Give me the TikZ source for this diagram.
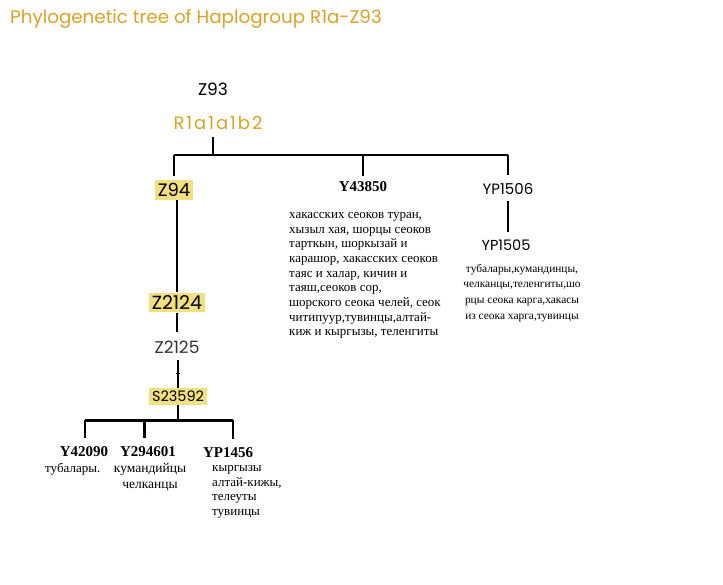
\documentclass[tikz,border=0pt]{standalone}
\usepackage{fontspec}
\setmainfont{Liberation Serif}
\newfontfamily\geofont{Poppins}
\usetikzlibrary{positioning}
\definecolor{hapgold}{HTML}{D9A521}
\definecolor{hapmark}{HTML}{F0E17C}
\definecolor{hapgray}{HTML}{333333}
\newcommand\geosize[1]{\geofont\fontsize{#1}{#1}\selectfont}
\tikzset{
  snp/.style={font=\geosize{16}, inner sep=3pt},
  snpmark/.style={snp, fill=hapmark},
  snpbold/.style={font=\bfseries\fontsize{15}{17}\selectfont, inner sep=1pt},
  folk/.style={font=\fontsize{13}{14.7}\selectfont, inner sep=0pt},
  branch/.style={line width=1.6pt},
}
\begin{document}
\begin{tikzpicture}[x=1pt,y=-1pt]
  \useasboundingbox (0,0) rectangle (723,585);
  %tikz  Haplogroup R1a-Z93
  \node[anchor=west, text=hapgold, font=\geosize{18.3}, inner sep=0pt] (title) at (10,19) {Phylogenetic tree of Haplogroup R1a-Z93};

  \node[snp, font=\geosize{17}] (z93) at (213,89) {Z93};
  \node[snp, text=hapgold, font=\geosize{18}\addfontfeatures{LetterSpace=11}] (r1a) at (218,123) {R1a1a1b2};
  \node[snpmark, font=\geosize{18}] (z94) at (174,190) {Z94};
  \node[snpbold] (y43850) at (363,187) {Y43850};
  \node[snp, font=\geosize{15}] (yp1506) at (508,189) {YP1506};
  \node[snp, font=\geosize{14.5}] (yp1505) at (506,245) {YP1505};
  \node[snpmark, font=\geosize{19}] (z2124) at (177,302.5) {Z2124};
  \node[snp, text=hapgray, font=\geosize{17}] (z2125) at (177,347) {Z2125};
  \node[snpmark, font=\geosize{14.5}] (s23592) at (178,396.5) {S23592};
  \node[snpbold] (y42090) at (84,452) {Y42090};
  \node[snpbold] (y294601) at (148,452) {Y294601};
  \node[snpbold] (yp1456) at (228,453) {YP1456};

  \coordinate (top) at (213,137);
  \coordinate (barl) at (174,155);
  \coordinate (barr) at (508,155);
  \coordinate (lowc) at (178,420);
  \coordinate (lowl) at (85,420);
  \coordinate (lowm) at (144,420);
  \coordinate (lowr) at (233,420);

  % upper branching
  \draw[branch] (top) -- (top |- barl);
  \draw[branch] (barl) -- (barr);
  \draw[branch, shorten >=4pt] (barl) -- (z94);
  \draw[branch, shorten >=5pt] (barl -| y43850) -- (y43850);
  \draw[branch, shorten >=5pt] (barr) -- (yp1506);
  \draw[branch, shorten <=3pt, shorten >=4pt] (yp1506) -- (yp1506 |- yp1505.north);

  % Z94 line
  \draw[branch] (z94.south -| z2124) -- (z2124);
  \draw[branch, shorten >=6pt] (z2124) -- (z2125);
  \draw[branch, shorten <=4pt] (z2125.south -| s23592) -- coordinate[pos=.55] (tick) (s23592);
  \draw[thick] (tick) +(-2,0) -- +(2,0);

  % lower branching
  \draw[branch] (s23592) -- (lowc);
  \draw[line width=3pt] (lowl) -- (lowr);
  \draw[line width=2pt, shorten >=8pt] (lowl) -- (lowl |- y42090.north);
  \draw[line width=3pt, shorten >=8pt] (lowm) -- (lowm |- y294601.north);
  \draw[line width=2pt, shorten >=8pt] (lowr) -- (lowr |- yp1456.north);

  % populations
  \node[folk, anchor=north west, align=left] (y43850pop) at (289,212) {хакасских сеоков туран,\\хызыл хая, шорцы сеоков\\тарткын, шоркызай и\\карашор, хакасских сеоков\\таяс и халар, кичин и\\таяш,сеоков сор,\\шорского сеока челей, сеок\\читипуур,тувинцы,алтай-\\киж и кыргызы, теленгиты};
  \node[folk, font=\fontsize{11.4}{15.6}\selectfont, anchor=north, align=center] (yp1505pop) at (522,264) {тубалары,кумандинцы,\\челканцы,теленгиты,шо\\рцы сеока карга,хакасы\\из сеока харга,тувинцы};
  \node[folk, anchor=north west] (y42090pop) at (45,463) {тубалары.};
  \node[folk, font=\fontsize{13.5}{16}\selectfont, anchor=north, align=center] (y294601pop) at (150,463) {кумандийцы\\челканцы};
  \node[folk, anchor=north west, align=left] (yp1456pop) at (212,465) {кыргызы\\алтай-кижы,\\телеуты\\тувинцы};
\end{tikzpicture}
\end{document}
